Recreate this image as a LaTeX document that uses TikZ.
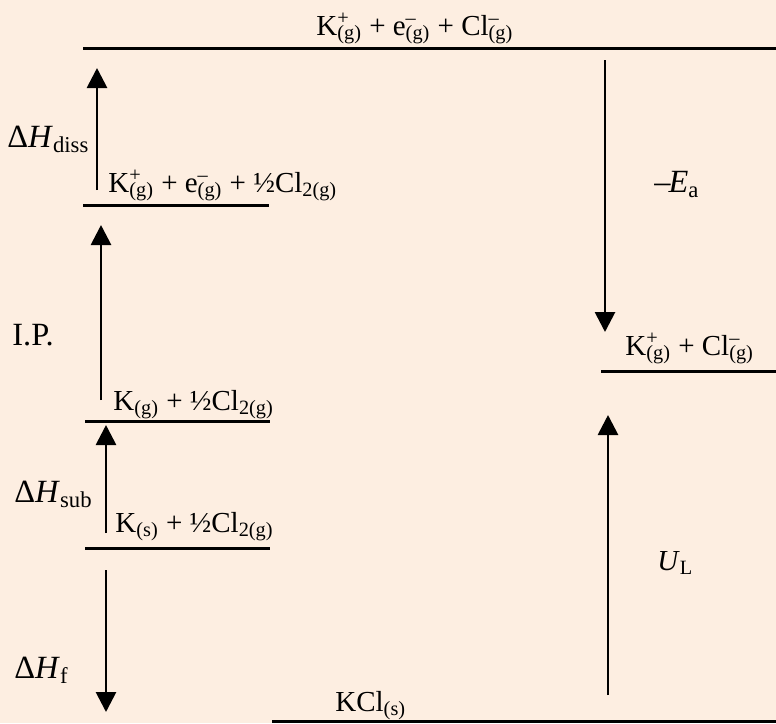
\documentclass[tikz,border=0pt]{standalone}
\usepackage{fontspec}
\setmainfont{Liberation Serif}
\usetikzlibrary{arrows.meta}
\definecolor{peach}{RGB}{253,238,225}
\newcommand{\fs}{\fontsize{14.5}{17}\selectfont}
\newcommand{\fb}{\fontsize{16.2}{19}\selectfont}
\newcommand{\spec}[3]{#1\rlap{\textsuperscript{#2}}\textsubscript{#3}}
\tikzset{
  level/.style={line width=1.5pt},
  jump/.style={line width=1.4pt,-{Triangle[length=10pt,width=10pt]}},
  lab/.style={font=\fs,inner sep=0pt,anchor=base west},
  side/.style={lab,font=\fb}
}
\begin{document}
\begin{tikzpicture}[x=0.5pt,y=-0.5pt]
        \fill[peach] (0,0) rectangle (776,723);
        \useasboundingbox (0,0) rectangle (776,723);
        % Levels
        \coordinate (topL) at (83,48);
        \coordinate (topR) at (776,48);
        \coordinate (dissL) at (83,205);
        \coordinate (dissR) at (269,205);
        \coordinate (ipL) at (85,421);
        \coordinate (ipR) at (270,421);
        \coordinate (subL) at (85,548);
        \coordinate (subR) at (270,548);
        \coordinate (kclL) at (272,721);
        \coordinate (kclR) at (776,721);
        \coordinate (ionL) at (601,371);
        \coordinate (ionR) at (776,371);
        \draw[level] (topL) -- (topR);
        \draw[level] (dissL) -- (dissR);
        \draw[level] (ipL) -- (ipR);
        \draw[level] (subL) -- (subR);
        \draw[level] (kclL) -- (kclR);
        \draw[level] (ionL) -- (ionR);
        % Species on the levels
        \node[lab] (top) at (316,35) {\spec{K}{+}{(g)} + \spec{e}{–}{(g)} + \spec{Cl}{–}{(g)}};
        \node[lab] (diss) at (108,192) {\spec{K}{+}{(g)} + \spec{e}{–}{(g)} + ½Cl\textsubscript{2(g)}};
        \node[lab] (ip) at (113,410) {K\textsubscript{(g)} + ½Cl\textsubscript{2(g)}};
        \node[lab] (sub) at (115,532) {K\textsubscript{(s)} + ½Cl\textsubscript{2(g)}};
        \node[lab] (ion) at (625,355) {\spec{K}{+}{(g)} + \spec{Cl}{–}{(g)}};
        \node[lab] (kcl) at (335,711) {KCl\textsubscript{(s)}};
        % Arrow ends
        \coordinate (dissA) at (97,190);
        \coordinate (dissB) at (97,68);
        \coordinate (ipA) at (101,400);
        \coordinate (ipB) at (101,225);
        \coordinate (subA) at (106,533);
        \coordinate (subB) at (106,425);
        \coordinate (fA) at (106,570);
        \coordinate (fB) at (106,712);
        \coordinate (eaA) at (605,60);
        \coordinate (eaB) at (605,332);
        \coordinate (ulA) at (608,695);
        \coordinate (ulB) at (608,415);
        \draw[jump] (dissA) -- (dissB);
        \draw[jump] (ipA) -- (ipB);
        \draw[jump] (subA) -- (subB);
        \draw[jump] (fA) -- (fB);
        \draw[jump] (eaA) -- (eaB);
        \draw[jump] (ulA) -- (ulB);
        % Step labels
        \node[side] (hdiss) at (7,147) {Δ\textit{H}\textsubscript{diss}};
        \node[side] (hip) at (12,345) {I.P.};
        \node[side] (hsub) at (14,502) {Δ\textit{H}\textsubscript{sub}};
        \node[side] (hf) at (14,678) {Δ\textit{H}\textsubscript{f}};
        \node[side] (ea) at (654,192) {–\kern-1pt\textit{E}\textsubscript{a}};
        \node[lab] (ul) at (657,570) {\textit{U}\textsubscript{L}};
    \end{tikzpicture}
\end{document}
